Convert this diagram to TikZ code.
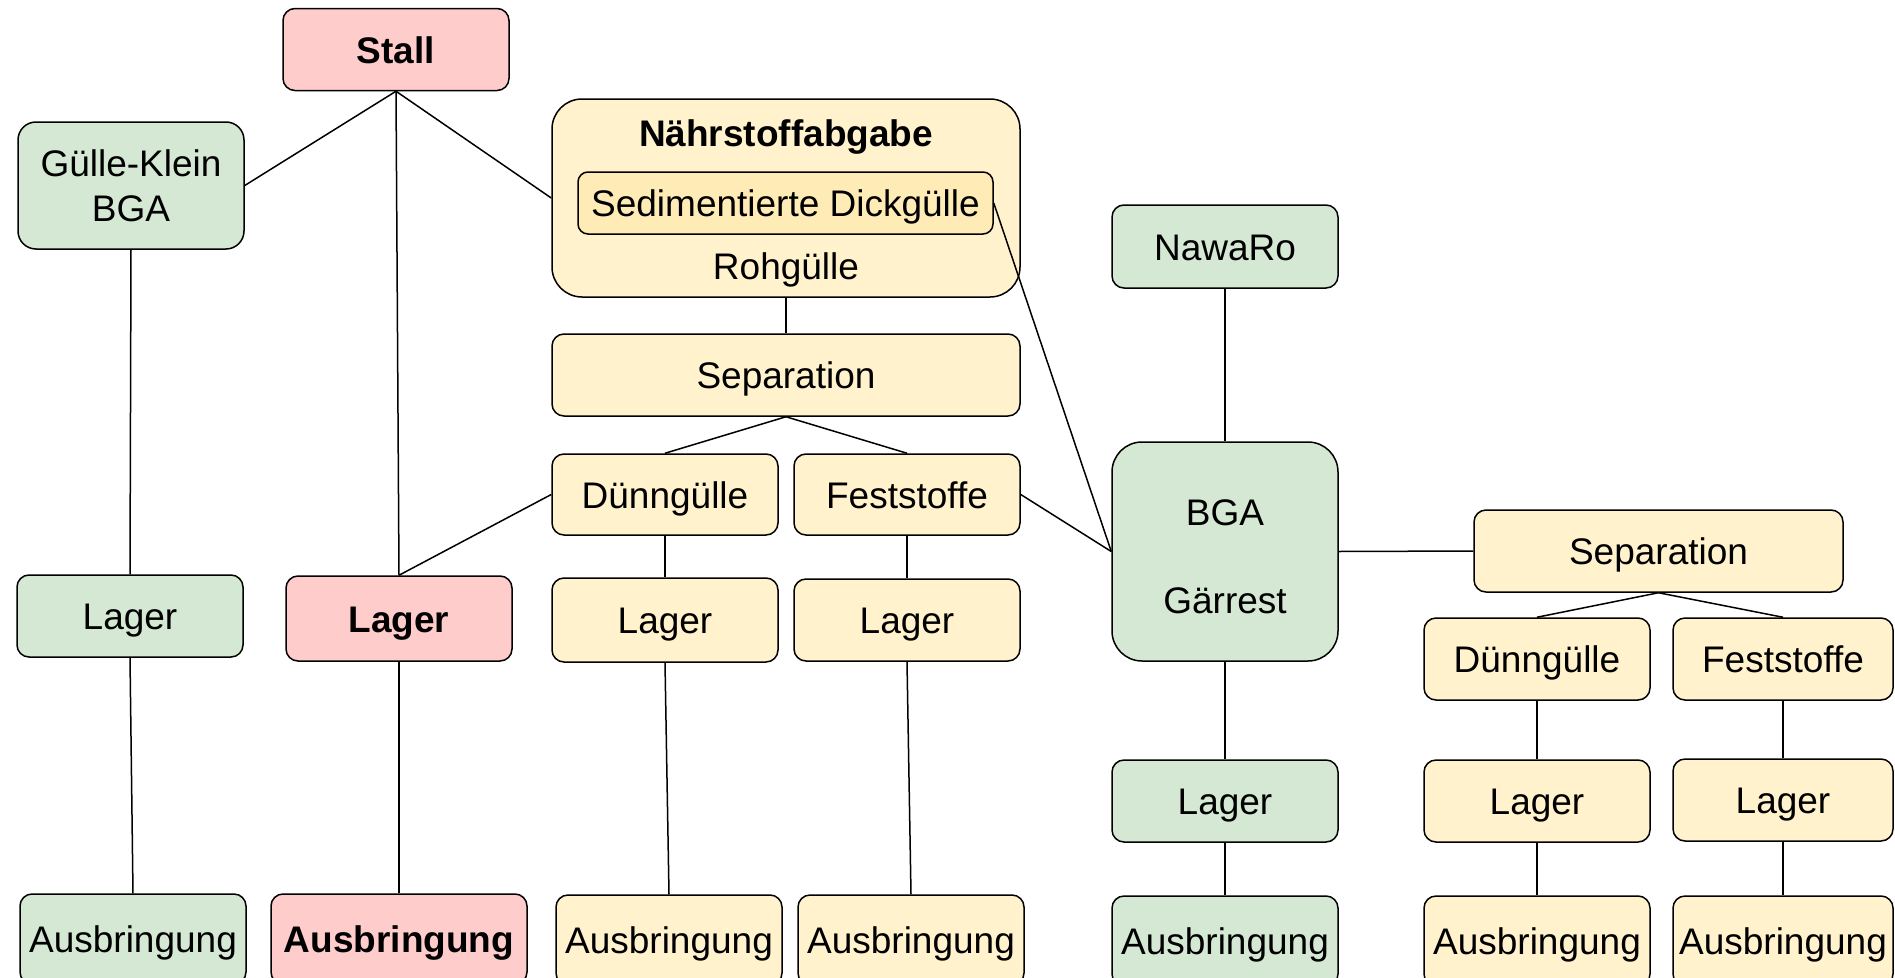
\documentclass[tikz,border=0pt]{standalone}
\usepackage{fontspec}
\setmainfont{Liberation Sans}
\definecolor{gfill}{HTML}{D5E8D4}
\definecolor{rfill}{HTML}{FFCCCC}
\definecolor{yfill}{HTML}{FFF2CC}
\definecolor{sfill}{HTML}{FFEBB5}
\begin{document}
\begin{tikzpicture}[x=1pt,y=-1pt,
  box/.style={draw=black, line width=1.5pt, rounded corners=12pt, inner sep=0pt,
    minimum width=226pt, minimum height=82pt, align=center,
    text height=27pt, text depth=0pt,
    font=\fontsize{37}{45}\selectfont},
  gbox/.style={box, fill=gfill},
  rbox/.style={box, fill=rfill, font=\fontsize{37}{45}\selectfont\bfseries},
  ybox/.style={box, fill=yfill},
  lbl/.style={inner sep=0pt, text height=27pt, text depth=0pt, font=\fontsize{37}{45}\selectfont},
  conn/.style={draw=black, line width=1.5pt}]
\clip (0,0) rectangle (1895,977);
\fill[white] (0,0) rectangle (1895,977);

% left column
\node[rbox] (stall) at (396,49.5) {Stall};
\node[gbox, minimum height=127pt, rounded corners=18pt, text height=, text depth=] (gk) at (131,185.5) {Gülle-Klein\\BGA};
\node[gbox] (lg) at (130,616) {Lager};
\node[rbox, minimum height=85pt] (lr) at (399,618.5) {Lager};
\node[gbox, minimum height=90pt] (ag) at (133,939) {Ausbringung};
\node[rbox, minimum width=256pt, minimum height=90pt] (ar) at (399,939) {Ausbringung};

% Naehrstoffabgabe
\node[ybox, minimum width=468pt, minimum height=198pt, rounded corners=30pt] (nahr) at (786,198) {};
\node[lbl, font=\fontsize{37}{45}\selectfont\bfseries] (nahrt) at (786,133) {Nährstoffabgabe};
\node[box, fill=sfill, minimum width=415pt, minimum height=62pt, rounded corners=10pt] (sed) at (785.5,203) {Sedimentierte Dickgülle};
\node[lbl] (roh) at (786,266) {Rohgülle};

\node[ybox, minimum width=468pt] (sep1) at (786,375) {Separation};
\node[ybox, minimum height=81pt] (dg1) at (665,494.5) {Dünngülle};
\node[ybox, minimum height=81pt] (fs1) at (907,494.5) {Feststoffe};
\node[ybox, minimum height=84pt] (ly1) at (665,620) {Lager};
\node[ybox] (ly2) at (907,620) {Lager};
\node[ybox, minimum height=90pt] (ay1) at (669,940) {Ausbringung};
\node[ybox, minimum height=90pt] (ay2) at (911,940) {Ausbringung};

% BGA column
\node[gbox, minimum height=83pt] (nawaro) at (1225,246.5) {NawaRo};
\node[gbox, minimum height=219pt, rounded corners=30pt] (bga) at (1225,551.5) {};
\node[lbl] (bgat) at (1225,512) {BGA};
\node[lbl] (garr) at (1225,600) {Gärrest};
\node[gbox] (lg2) at (1225,801) {Lager};
\node[gbox, minimum height=90pt] (ag2) at (1225,941) {Ausbringung};

% right separation
\node[ybox, minimum width=369pt] (sep2) at (1658.5,551) {Separation};
\node[ybox] (dg2) at (1537,659) {Dünngülle};
\node[ybox, minimum width=220pt] (fs2) at (1783,659) {Feststoffe};
\node[ybox] (ly3) at (1537,801) {Lager};
\node[ybox, minimum width=220pt] (ly4) at (1783,800) {Lager};
\node[ybox, minimum height=90pt] (ay3) at (1537,941) {Ausbringung};
\node[ybox, minimum width=220pt, minimum height=90pt] (ay4) at (1783,941) {Ausbringung};

% connectors
\draw[conn] (stall.south) -- (gk.east);
\draw[conn] (stall.south) -- (lr.north);
\draw[conn] (stall.south) -- (nahr.west);
\draw[conn] (gk.south) -- (lg.north);
\draw[conn] (lg.south) -- (ag.north);
\draw[conn] (lr.south) -- (ar.north);
\draw[conn] (nahr.south) -- (sep1.north);
\draw[conn] (sep1.south) -- (dg1.north);
\draw[conn] (sep1.south) -- (fs1.north);
\draw[conn] (dg1.west) -- (lr.north);
\draw[conn] (dg1.south) -- (ly1.north);
\draw[conn] (ly1.south) -- (ay1.north);
\draw[conn] (fs1.south) -- (ly2.north);
\draw[conn] (ly2.south) -- (ay2.north);
\draw[conn] (fs1.east) -- (bga.west);
\draw[conn] (sed.east) -- (bga.west);
\draw[conn] (nawaro.south) -- (bga.north);
\draw[conn] (bga.south) -- (lg2.north);
\draw[conn] (lg2.south) -- (ag2.north);
\draw[conn] (bga.east) -- (sep2.west);
\draw[conn] (sep2.south) -- (dg2.north);
\draw[conn] (sep2.south) -- (fs2.north);
\draw[conn] (dg2.south) -- (ly3.north);
\draw[conn] (ly3.south) -- (ay3.north);
\draw[conn] (fs2.south) -- (ly4.north);
\draw[conn] (ly4.south) -- (ay4.north);
\end{tikzpicture}
\end{document}
